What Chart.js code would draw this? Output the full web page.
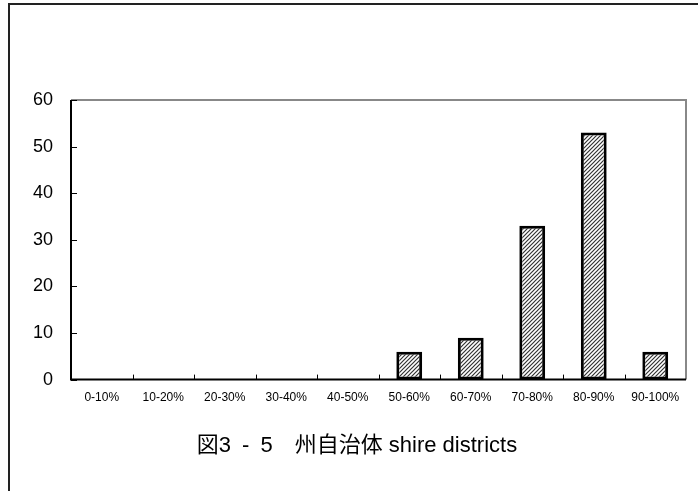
<!DOCTYPE html>
<html>
<head>
<meta charset="utf-8">
<script src="https://cdn.jsdelivr.net/npm/chart.js@4.4.1/dist/chart.umd.min.js"></script>
<style>
  html, body { margin: 0; padding: 0; background: #fff; }
  #wrap { width: 698px; height: 491px; position: relative; }
</style>
</head>
<body>
<div id="wrap"><canvas id="shireChart"></canvas></div>
<script>
'use strict';

// Share of shire districts per percentage band
const bands = ['0-10%', '10-20%', '20-30%', '30-40%', '40-50%', '50-60%', '60-70%', '70-80%', '80-90%', '90-100%'];
const counts = [0, 0, 0, 0, 0, 6, 9, 33, 53, 6];
const yTicks = [0, 10, 20, 30, 40, 50, 60];
const chartTitle = '図3\u2002-\u20025\u3000州自治体 shire districts';

// ─────────────────────────────────────────────
// diagonal hatch fill for the bars
// ─────────────────────────────────────────────
function makeHatch() {
  const c = document.createElement('canvas');
  c.width = 4; c.height = 4;
  const g = c.getContext('2d');
  g.fillStyle = '#fff';
  g.fillRect(0, 0, 4, 4);
  g.strokeStyle = '#333';
  g.lineWidth = 1.2;
  g.beginPath();
  g.moveTo(-1, 5); g.lineTo(5, -1);
  g.moveTo(-1, 1); g.lineTo(1, -1);
  g.moveTo(3, 5); g.lineTo(5, 3);
  g.stroke();
  return g.createPattern(c, 'repeat');
}

// outer frame + plot box + inward tick marks
const frame = {
  id: 'frame',
  beforeDraw(chart) {
    const ctx = chart.ctx;
    ctx.save();
    ctx.fillStyle = '#fff';
    ctx.fillRect(0, 0, chart.width, chart.height);
    ctx.strokeStyle = '#222';
    ctx.lineWidth = 2;
    ctx.beginPath();
    ctx.moveTo(chart.width, 4);
    ctx.lineTo(9, 4);
    ctx.lineTo(9, chart.height);
    ctx.stroke();
    ctx.restore();
  },
  afterDatasetsDraw(chart) {
    const { ctx, chartArea: a, scales } = chart;
    ctx.save();
    // top / right edge of the plot box in grey
    ctx.strokeStyle = '#888';
    ctx.lineWidth = 2;
    ctx.beginPath();
    ctx.moveTo(a.left, a.top);
    ctx.lineTo(a.right, a.top);
    ctx.lineTo(a.right, a.bottom);
    ctx.stroke();
    // left / bottom axis lines
    ctx.strokeStyle = '#000';
    ctx.beginPath();
    ctx.moveTo(a.left, a.top);
    ctx.lineTo(a.left, a.bottom);
    ctx.lineTo(a.right, a.bottom);
    ctx.stroke();
    // inward ticks
    ctx.lineWidth = 1;
    ctx.beginPath();
    yTicks.forEach((v) => {
      const y = Math.round(scales.y.getPixelForValue(v)) + 0.5;
      ctx.moveTo(a.left, y);
      ctx.lineTo(a.left + 6, y);
    });
    for (let i = 1; i < bands.length; i++) {
      const x = Math.round((scales.x.getPixelForValue(i - 1) + scales.x.getPixelForValue(i)) / 2) + 0.5;
      ctx.moveTo(x, a.bottom);
      ctx.lineTo(x, a.bottom - 5);
    }
    ctx.stroke();
    ctx.restore();
  },
};

new Chart(document.getElementById('shireChart'), {
  type: 'bar',
  data: {
    labels: bands,
    datasets: [{
      data: counts,
      backgroundColor: makeHatch(),
      borderColor: '#000',
      borderWidth: 3,
      borderSkipped: false,
      categoryPercentage: 1,
      barPercentage: 0.42,
    }],
  },
  options: {
    responsive: true,
    maintainAspectRatio: false,
    animation: false,
    devicePixelRatio: 1,
    layout: { padding: { top: 100, left: 28, right: 12, bottom: 28 } },
    plugins: {
      legend: { display: false },
      tooltip: { enabled: false },
      title: {
        display: true,
        text: chartTitle,
        position: 'bottom',
        color: '#000',
        font: { family: '"Liberation Sans", "Noto Sans CJK JP", sans-serif', size: 22, weight: 'normal' },
        padding: { top: 23, bottom: 4 },
      },
    },
    scales: {
      x: {
        grid: { display: false, drawTicks: false },
        border: { display: false },
        ticks: {
          color: '#000',
          padding: 11,
          maxRotation: 0,
          autoSkip: false,
          font: { family: '"Liberation Sans", Arial, sans-serif', size: 12 },
        },
        afterFit: (s) => { s.height = 30; },
      },
      y: {
        min: 0,
        max: 60,
        grid: { display: false, drawTicks: false },
        border: { display: false },
        ticks: {
          stepSize: 10,
          color: '#000',
          padding: 18,
          font: { family: '"Liberation Sans", Arial, sans-serif', size: 18 },
        },
        afterFit: (s) => { s.width = 43; },
      },
    },
  },
  plugins: [frame],
});
</script>
</body>
</html>
